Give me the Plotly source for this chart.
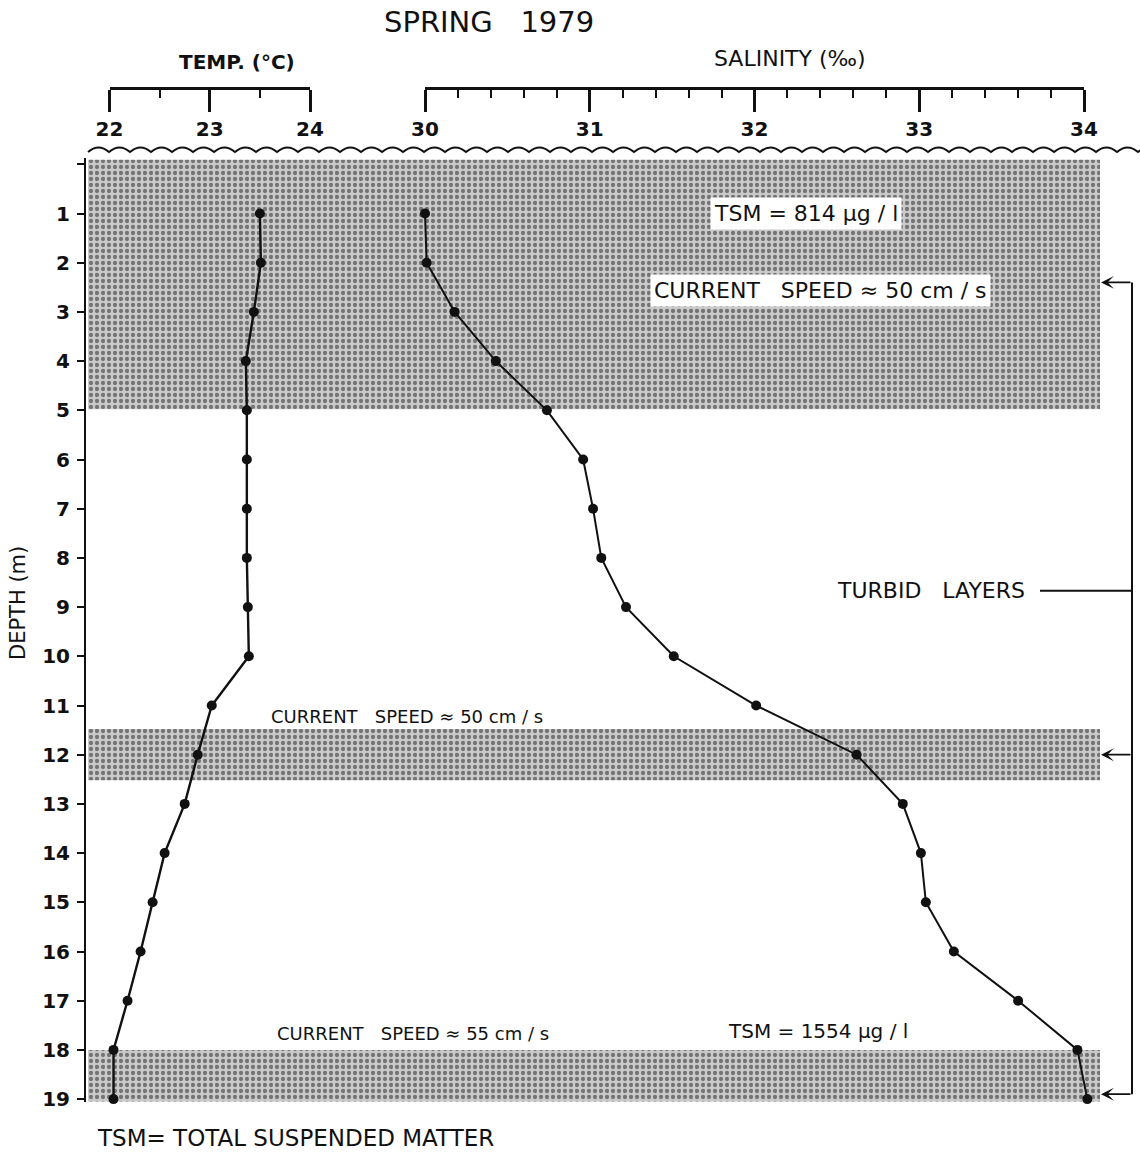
import plotly.graph_objects as go

W, H = 1140, 1155

# ---------------- data ----------------
depth = list(range(1, 20))
temperature = [23.50, 23.51, 23.44, 23.36, 23.37, 23.37, 23.37, 23.37, 23.38, 23.39,
               23.02, 22.88, 22.75, 22.55, 22.43, 22.31, 22.18, 22.04, 22.04]
salinity = [30.00, 30.01, 30.18, 30.43, 30.74, 30.96, 31.02, 31.07, 31.22, 31.51,
            32.01, 32.62, 32.90, 33.01, 33.04, 33.21, 33.60, 33.96, 34.02]

depth_ticks = list(range(0, 20))
depth_labels = [""] + [str(d) for d in range(1, 20)]
temp_ticks = [22, 23, 24]
sal_ticks = [30, 31, 32, 33, 34]

turbid_top = [-0.09, 11.48, 18.0]
turbid_bottom = [4.98, 12.52, 19.05]
arrow_depths = [2.4, 12.0, 18.9]
turbid_label_depth = 8.67

# ---------------- geometry (pixels) ----------------
FONT = "DejaVu Sans"
INK = "#111111"
Y_D1, Y_PER = 213.5, 49.2          # pixel of depth 1, pixels per metre
PLOT_X0, PLOT_X1 = 88, 1100          # stippled data area
SAL_PX = (425, 1084)                 # pixels of 30 and 34
TEMP_PX = (109.5, 310)               # pixels of 22 and 24
AXIS_Y = 88                          # pixel row of the top scales
Y_AXIS_X = 85


def px(x):
    return x / W


def py(y):
    return 1 - y / H


def depth_at(ypix):
    return 1 + (ypix - Y_D1) / Y_PER


dom_top, dom_bot = 158, 1102
y_range = [depth_at(dom_bot), depth_at(dom_top)]

sal_scale = (SAL_PX[1] - SAL_PX[0]) / (sal_ticks[-1] - sal_ticks[0])
temp_scale = (TEMP_PX[1] - TEMP_PX[0]) / (temp_ticks[-1] - temp_ticks[0])
sal_range = [sal_ticks[0] - (SAL_PX[0] - PLOT_X0) / sal_scale,
             sal_ticks[0] + (PLOT_X1 - SAL_PX[0]) / sal_scale]
temp_range = [temp_ticks[0] - (TEMP_PX[0] - PLOT_X0) / temp_scale,
              temp_ticks[0] + (PLOT_X1 - TEMP_PX[0]) / temp_scale]

fig = go.Figure()

# stippled turbid layers
for t, b in zip(turbid_top, turbid_bottom):
    fig.add_trace(go.Scatter(
        x=[0, 1, 1, 0, 0], y=[t, t, b, b, t], xaxis="x", yaxis="y",
        mode="lines", fill="toself", line=dict(width=0),
        fillcolor="rgba(0,0,0,0)",
        fillpattern=dict(shape=".", fgcolor="#1e1e1e", bgcolor="#cacaca",
                         size=6, solidity=0.4),
        showlegend=False, hoverinfo="skip"))

# salinity profile
fig.add_trace(go.Scatter(
    x=salinity, y=depth, xaxis="x2", yaxis="y", mode="lines+markers",
    line=dict(color=INK, width=2), marker=dict(color=INK, size=10),
    showlegend=False, cliponaxis=False))

# temperature profile
fig.add_trace(go.Scatter(
    x=temperature, y=depth, xaxis="x3", yaxis="y", mode="lines+markers",
    line=dict(color=INK, width=2.4), marker=dict(color=INK, size=10),
    showlegend=False, cliponaxis=False))

# keep the two scale axes alive
for ax in ("x4", "x5"):
    fig.add_trace(go.Scatter(x=[None], y=[None], xaxis=ax, yaxis="y",
                             showlegend=False, hoverinfo="skip"))

tickfont = dict(family=FONT, size=20, color=INK, weight="bold")
scale_common = dict(anchor="free", position=py(AXIS_Y), side="bottom",
                    showline=True, linecolor=INK, linewidth=2.5,
                    ticks="outside", ticklen=22, tickwidth=2.5, tickcolor=INK,
                    tickfont=tickfont, showgrid=False, zeroline=False,
                    ticklabelstandoff=0, fixedrange=True, automargin=False)

fig.update_layout(
    width=W, height=H, autosize=False,
    margin=dict(l=0, r=0, t=0, b=0, autoexpand=False),
    paper_bgcolor="white", plot_bgcolor="rgba(0,0,0,0)",
    font=dict(family=FONT, color=INK),
    xaxis=dict(domain=[px(PLOT_X0), px(PLOT_X1)], range=[0, 1], visible=False,
               anchor="y", fixedrange=True, automargin=False),
    xaxis2=dict(domain=[px(PLOT_X0), px(PLOT_X1)], range=sal_range, visible=False,
                anchor="y", fixedrange=True, automargin=False),
    xaxis3=dict(domain=[px(PLOT_X0), px(PLOT_X1)], range=temp_range, visible=False,
                anchor="y", fixedrange=True, automargin=False),
    xaxis4=dict(domain=[px(SAL_PX[0]), px(SAL_PX[1])], range=[sal_ticks[0], sal_ticks[-1]],
                tickmode="array", tickvals=sal_ticks,
                minor=dict(dtick=0.2, tick0=30, ticks="outside", ticklen=8,
                           tickwidth=2, tickcolor=INK, showgrid=False),
                **scale_common),
    xaxis5=dict(domain=[px(TEMP_PX[0]), px(TEMP_PX[1])], range=[temp_ticks[0], temp_ticks[-1]],
                tickmode="array", tickvals=temp_ticks,
                minor=dict(dtick=0.5, tick0=22, ticks="outside", ticklen=8,
                           tickwidth=2, tickcolor=INK, showgrid=False),
                **scale_common),
    yaxis=dict(domain=[py(dom_bot), py(dom_top)], range=y_range,
               anchor="free", position=px(Y_AXIS_X),
               showline=True, linecolor=INK, linewidth=2,
               ticks="outside", ticklen=7, tickwidth=2, tickcolor=INK,
               tickmode="array", tickvals=depth_ticks, ticktext=depth_labels,
               tickfont=tickfont, showgrid=False, zeroline=False,
               ticklabelstandoff=3, fixedrange=True, automargin=False),
)

# wavy sea surface
wave_y = 152
period = 21.0
path = f"M {px(PLOT_X0)} {py(wave_y)}"
x = PLOT_X0
while x < W:
    x2 = x + period
    path += f" Q {px(x + period / 2)} {py(wave_y - 9)} {px(x2)} {py(wave_y)}"
    x = x2
fig.add_shape(type="path", path=path, xref="paper", yref="paper",
              line=dict(color=INK, width=2))

# bracket for turbid layers
fig.add_shape(type="line", xref="paper", yref="y",
              x0=px(1132), x1=px(1132), y0=arrow_depths[0], y1=arrow_depths[-1],
              line=dict(color=INK, width=2))
fig.add_shape(type="line", xref="paper", yref="y",
              x0=px(1040), x1=px(1132), y0=turbid_label_depth, y1=turbid_label_depth,
              line=dict(color=INK, width=2))
for d in arrow_depths:
    fig.add_annotation(x=px(1101), y=d, xref="paper", yref="y", text="",
                       showarrow=True, ax=31, ay=0, arrowhead=3, arrowsize=1.2,
                       arrowwidth=1.8, arrowcolor=INK)

NB = "\u00a0"


def label(text, x, y, yref="y", size=20, bg=None, xanchor="center", angle=0, weight="normal"):
    fig.add_annotation(x=x, y=y, xref="paper", yref=yref, text=text,
                       showarrow=False, xanchor=xanchor, yanchor="middle",
                       textangle=angle, bgcolor=bg, borderpad=3,
                       font=dict(family=FONT, size=size, color=INK, weight=weight))


label(f"SPRING{NB*3}1979", px(489), py(22), yref="paper", size=29)
label("TEMP. (°C)", px(237), py(62), yref="paper", size=20, weight="bold")
label("SALINITY (‰)", px(790), py(59), yref="paper", size=22)
label("TSM = 814 µg / l", px(806), 1.0, size=22, bg="white")
label(f"CURRENT{NB*3}SPEED ≈ 50 cm / s", px(820), depth_at(290), size=22, bg="white")
label(f"CURRENT{NB*3}SPEED ≈ 50 cm / s", px(407), depth_at(716), size=18)
label(f"CURRENT{NB*3}SPEED ≈ 55 cm / s", px(413), depth_at(1033), size=18)
label("TSM = 1554 µg / l", px(818), depth_at(1031), size=20)
label(f"TURBID{NB*3}LAYERS", px(931), turbid_label_depth, size=22)
label("DEPTH (m)", px(18), py(603), yref="paper", size=21, angle=-90)
label("TSM= TOTAL SUSPENDED MATTER", px(93), py(1138), yref="paper", size=23,
      xanchor="left")

fig.write_html("out.html")
